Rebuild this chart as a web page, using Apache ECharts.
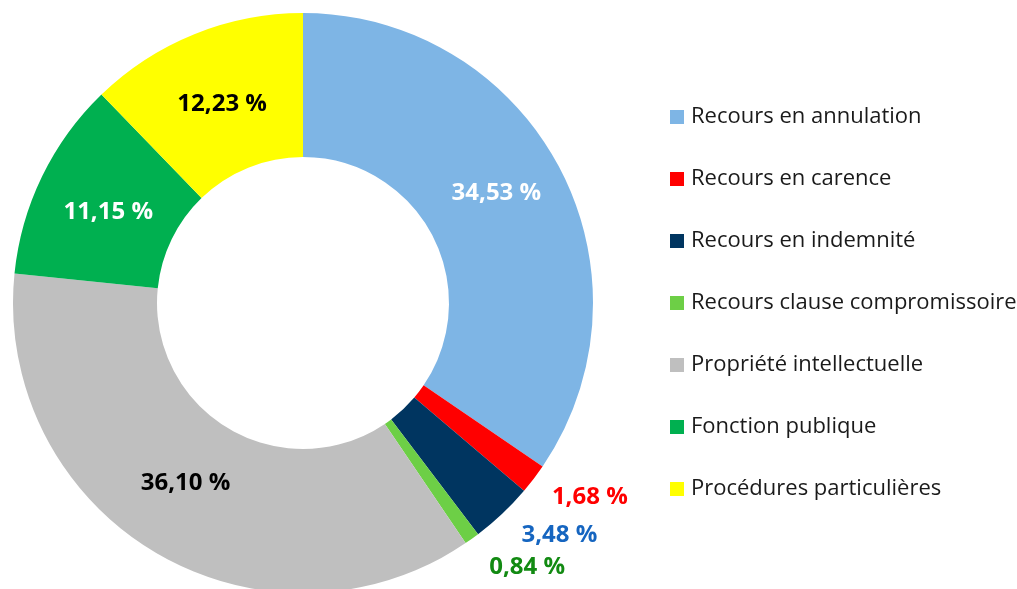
<!DOCTYPE html>
<html>
<head>
<meta charset="utf-8">
<script src="https://cdn.jsdelivr.net/npm/echarts@6/dist/echarts.min.js"></script>
<style>
    html, body { margin: 0; padding: 0; background: #fff; }
    #main { width: 1017px; height: 589px; }
</style>
</head>
<body>
<div id="main"></div>
<script>
// données
var categories = ['Recours en annulation', 'Recours en carence', 'Recours en indemnité', 'Recours clause compromissoire', 'Propriété intellectuelle', 'Fonction publique', 'Procédures particulières'];
var values = [34.53, 1.68, 3.48, 0.84, 36.10, 11.15, 12.23];
var colors = ['#7eb5e5', '#ff0000', '#003560', '#6dcf46', '#bfbfbf', '#00b050', '#ffff00'];
var labelColors = ['#ffffff', '#ff0000', '#1565c0', '#128a12', '#000000', '#ffffff', '#000000'];
var outside = [false, true, true, true, false, false, false];
// petits décalages des étiquettes
var labelOffsets = [[-2, -7], [-4, 1], [0, 1], [1, 6], [-4, -10], [4, 6], [2, 6]];

var chartDom = document.getElementById('main');
var myChart = echarts.init(chartDom);

var pieData = [];
categories.forEach(function (name, i) {
    pieData.push({
        name: name,
        value: values[i],
        itemStyle: { color: colors[i] },
        label: {
            color: labelColors[i],
            position: outside[i] ? 'outside' : 'inside',
            offset: labelOffsets[i]
        }
    });
});

var option = {
    animation: false,
    legend: {
        orient: 'vertical',
        left: 670,
        top: 106,
        padding: 0,
        itemWidth: 14,
        itemHeight: 14,
        itemGap: 40,
        icon: 'rect',
        selectedMode: false,
        textStyle: {
            fontFamily: 'Open Sans',
            fontSize: 22,
            lineHeight: 20,
            color: '#1a1a1a',
            padding: [0, 0, 0, 2]
        },
        data: categories
    },
    series: [{
        type: 'pie',
        center: [303, 303],
        radius: [146, 290],
        startAngle: 90,
        clockwise: true,
        avoidLabelOverlap: false,
        label: {
            show: true,
            fontFamily: 'Open Sans',
            fontWeight: 'bold',
            fontSize: 24,
            distanceToLabelLine: 0,
            formatter: function (p) {
                return p.value.toFixed(2).replace('.', ',') + ' %';
            }
        },
        labelLine: {
            show: false,
            length: 28,
            length2: 0
        },
        itemStyle: { borderWidth: 0 },
        emphasis: { disabled: true },
        data: pieData
    }]
};

option && myChart.setOption(option);
</script>
</body>
</html>
